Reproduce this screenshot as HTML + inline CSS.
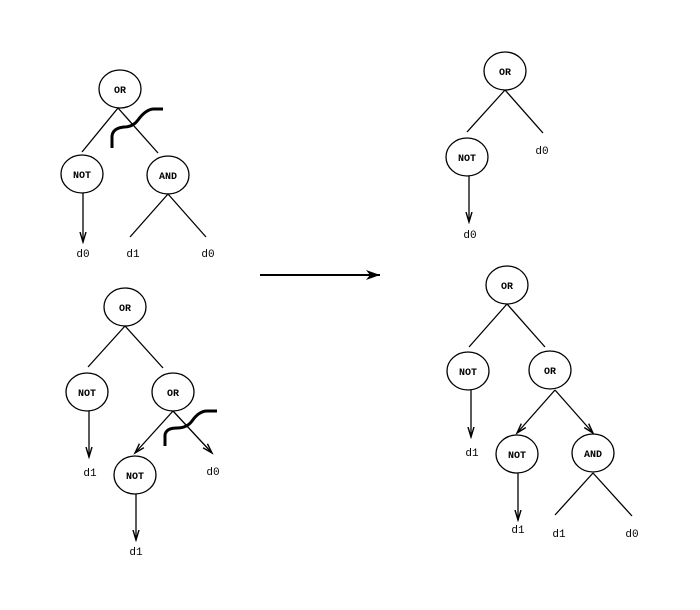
<!DOCTYPE html>
<html><head><meta charset="utf-8"><style>
html,body{margin:0;padding:0;background:#fff;}
svg{display:block;}
text{font-family:"Liberation Mono",monospace;fill:#000;}
.n{font-size:10px;text-anchor:middle;font-weight:bold;}
.l{font-size:11px;text-anchor:middle;}
</style></head><body>
<svg width="700" height="610" viewBox="0 0 700 610" xmlns="http://www.w3.org/2000/svg">
<defs>
<marker id="v" markerWidth="12" markerHeight="10" refX="10" refY="5" orient="auto" markerUnits="userSpaceOnUse">
<path d="M0,2 L10,5 L0,8" fill="none" stroke="#000" stroke-width="1.4"/>
</marker>
<marker id="h" markerWidth="16" markerHeight="12" refX="14" refY="6" orient="auto" markerUnits="userSpaceOnUse">
<path d="M0,1 L14,6 L0,11 L4,6 Z" fill="#000"/>
</marker>
</defs>
<g fill="none" stroke="#000" stroke-width="1.3">
<ellipse cx="120" cy="89" rx="21" ry="19"/>
<ellipse cx="82" cy="174" rx="21" ry="19"/>
<ellipse cx="168" cy="175" rx="21" ry="19"/>
<line x1="118" y1="108" x2="82" y2="152"/>
<line x1="118" y1="108" x2="158" y2="153"/>
<line x1="83" y1="193" x2="83" y2="242" marker-end="url(#v)"/>
<line x1="168" y1="194" x2="130" y2="237"/>
<line x1="168" y1="194" x2="206" y2="237"/>
<ellipse cx="125" cy="307" rx="21" ry="19"/>
<ellipse cx="87" cy="392" rx="21" ry="19"/>
<ellipse cx="173" cy="392" rx="21" ry="19"/>
<ellipse cx="135" cy="475" rx="21" ry="19"/>
<line x1="125" y1="326" x2="88" y2="367"/>
<line x1="125" y1="326" x2="163" y2="368"/>
<line x1="89" y1="411" x2="89" y2="457" marker-end="url(#v)"/>
<line x1="173" y1="411" x2="135" y2="453" marker-end="url(#v)"/>
<line x1="173" y1="411" x2="212" y2="453" marker-end="url(#v)"/>
<line x1="136" y1="494" x2="136" y2="540" marker-end="url(#v)"/>
<ellipse cx="505" cy="71" rx="21" ry="19"/>
<ellipse cx="467" cy="157" rx="21" ry="19"/>
<line x1="505" y1="90" x2="467" y2="132"/>
<line x1="505" y1="90" x2="543" y2="133"/>
<line x1="469" y1="176" x2="469" y2="222" marker-end="url(#v)"/>
<ellipse cx="507" cy="285" rx="21" ry="19"/>
<ellipse cx="468" cy="371" rx="21" ry="19"/>
<ellipse cx="550" cy="370" rx="21" ry="19"/>
<ellipse cx="517" cy="454" rx="21" ry="19"/>
<ellipse cx="593" cy="453" rx="21" ry="19"/>
<line x1="507" y1="304" x2="469" y2="347"/>
<line x1="507" y1="304" x2="545" y2="347"/>
<line x1="471" y1="390" x2="471" y2="437" marker-end="url(#v)"/>
<line x1="555" y1="390" x2="517" y2="433" marker-end="url(#v)"/>
<line x1="555" y1="390" x2="593" y2="433" marker-end="url(#v)"/>
<line x1="518" y1="473" x2="518" y2="520" marker-end="url(#v)"/>
<line x1="593" y1="473" x2="555" y2="515"/>
<line x1="593" y1="473" x2="632" y2="516"/>
</g>
<path d="M112,148 L112,136 Q113,128 124,127 Q133,127 138,120 Q146,109 154,109 L163,109" fill="none" stroke="#000" stroke-width="3"/>
<path d="M165,446 L165,435 Q166,428 177,428 Q187,428 192,421 Q199,411 207,411 L217,411" fill="none" stroke="#000" stroke-width="3"/>
<line x1="260" y1="275" x2="380" y2="275" stroke="#000" stroke-width="2" marker-end="url(#h)"/>
<text class="n" x="120" y="93">OR</text>
<text class="n" x="82" y="178">NOT</text>
<text class="n" x="168" y="179">AND</text>
<text class="l" x="83" y="257">d0</text>
<text class="l" x="133" y="257">d1</text>
<text class="l" x="208" y="257">d0</text>
<text class="n" x="125" y="311">OR</text>
<text class="n" x="87" y="396">NOT</text>
<text class="n" x="173" y="396">OR</text>
<text class="n" x="135" y="479">NOT</text>
<text class="l" x="90" y="476">d1</text>
<text class="l" x="213" y="475">d0</text>
<text class="l" x="136" y="555">d1</text>
<text class="n" x="505" y="75">OR</text>
<text class="n" x="467" y="161">NOT</text>
<text class="l" x="542" y="154">d0</text>
<text class="l" x="470" y="238">d0</text>
<text class="n" x="507" y="289">OR</text>
<text class="n" x="468" y="375">NOT</text>
<text class="n" x="550" y="374">OR</text>
<text class="n" x="517" y="458">NOT</text>
<text class="n" x="593" y="457">AND</text>
<text class="l" x="472" y="456">d1</text>
<text class="l" x="518" y="533">d1</text>
<text class="l" x="559" y="537">d1</text>
<text class="l" x="632" y="537">d0</text>
</svg>
</body></html>
